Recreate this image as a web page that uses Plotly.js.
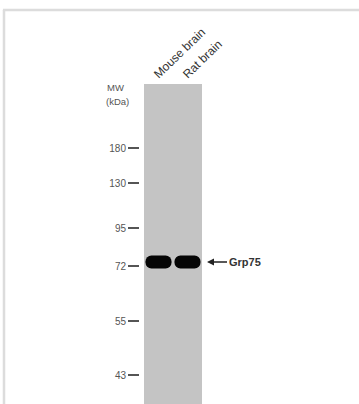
<!DOCTYPE html>
<html><head><meta charset="utf-8">
<script src="https://cdn.plot.ly/plotly-3.0.1.min.js"></script>
<style>html,body{margin:0;padding:0;background:#fff;}#chart{width:359px;height:404px;}</style>
</head><body><div id="chart"></div>
<script>
// Lanes (samples)
const lanes = ['Mouse brain', 'Rat brain'];
// Molecular weight markers (kDa) and their migration distance from lane top (arbitrary units)
const markerLabels = ['180', '130', '95', '72', '55', '43'];
const markerMigration = [64, 99, 144, 182, 237, 291];
// Detected band (Grp75) migration and thickness for each lane
const bandName = 'Grp75';
const bandMigration = [178, 178];
const bandThickness = [13, 13];
const laneLength = 320;

const W = 359, H = 404;
const bandBase = bandMigration.map((m, i) => m - bandThickness[i] / 2);

const traces = [{
  type: 'bar',
  x: lanes,
  y: bandThickness,
  base: bandBase,
  width: 0.9,
  marker: {color: '#050505', cornerradius: 6, line: {width: 0}},
  hoverinfo: 'skip',
  showlegend: false
}];

const layout = {
  width: W, height: H,
  margin: {l: 0, r: 0, t: 0, b: 0},
  paper_bgcolor: '#ffffff',
  plot_bgcolor: '#c4c4c4',
  showlegend: false,
  font: {family: 'Liberation Sans, Arial, sans-serif', color: '#444'},
  xaxis: {
    domain: [144 / W, 202 / W],
    type: 'category',
    range: [-0.5, 1.5],
    side: 'top',
    tickangle: -44,
    showgrid: false, zeroline: false, showline: false,
    ticks: '', ticklen: 0,
    ticklabelshift: -4,
    ticklabelstandoff: 0,
    tickfont: {size: 12, color: '#333'},
    fixedrange: true
  },
  yaxis: {
    domain: [0, (H - 84) / H],
    range: [laneLength, 0],
    anchor: 'free',
    position: 139 / W,
    tickvals: markerMigration,
    ticktext: markerLabels,
    ticks: 'outside', ticklen: 11, tickwidth: 1.3, tickcolor: '#555',
    showgrid: false, zeroline: false, showline: false,
    tickfont: {size: 10, color: '#555'},
    fixedrange: true
  },
  shapes: [
    {type: 'line', xref: 'paper', yref: 'paper', x0: 4 / W, x1: 4 / W, y0: 0, y1: 1 - 10 / H,
     line: {color: '#dcdcdc', width: 2.5}},
    {type: 'line', xref: 'paper', yref: 'paper', x0: 4 / W - 0.003, x1: 1, y0: 1 - 10 / H, y1: 1 - 10 / H,
     line: {color: '#dcdcdc', width: 2.5}}
  ],
  annotations: [
    {xref: 'paper', yref: 'paper', x: 105 / W, y: 1 - 88 / H, text: 'MW', showarrow: false,
     xanchor: 'left', yanchor: 'middle', font: {size: 9.5, color: '#555'}},
    {xref: 'paper', yref: 'paper', x: 104 / W, y: 1 - 101 / H, text: '(kDa)', showarrow: false,
     xanchor: 'left', yanchor: 'middle', font: {size: 9.5, color: '#555'}},
    {xref: 'paper', yref: 'y', x: 207 / W, y: bandMigration[1], text: '<b>' + bandName + '</b>',
     showarrow: true, ax: 20, ay: 0, xanchor: 'left', arrowhead: 2, arrowsize: 1, arrowwidth: 1.4,
     arrowcolor: '#222', standoff: 0, startstandoff: 0, borderpad: 1,
     font: {size: 11, color: '#333'}}
  ]
};

Plotly.newPlot('chart', traces, layout, {staticPlot: true, displayModeBar: false});
</script>
</body></html>
